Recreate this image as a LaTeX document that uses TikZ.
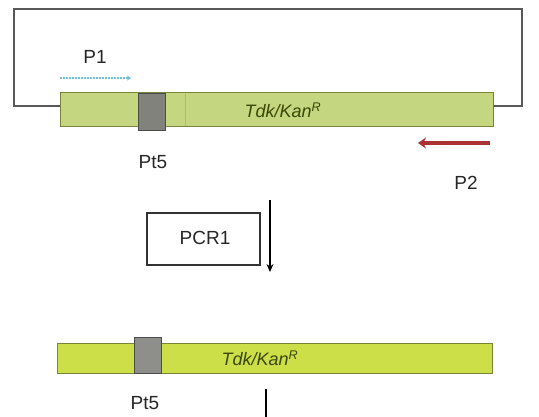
\documentclass[tikz,border=0pt]{standalone}
\usepackage{fontspec}
\setmainfont{Liberation Sans}
\usetikzlibrary{arrows.meta}
\definecolor{barA}{RGB}{196,214,128}
\definecolor{barB}{RGB}{204,222,72}
\definecolor{barEdge}{RGB}{120,132,60}
\definecolor{genetxt}{RGB}{60,72,5}
\definecolor{ptgray}{RGB}{130,130,125}
\definecolor{pOne}{RGB}{110,190,220}
\definecolor{pTwo}{RGB}{170,50,50}
\tikzset{
  bar/.style={draw=barEdge, line width=1pt, minimum height=#1, inner sep=0pt},
  ptbox/.style={draw=black!70, fill=ptgray, line width=0.8pt, inner sep=0pt, minimum width=27pt},
  lbl/.style={font=\fontsize{19}{19}\selectfont, text=black!85, inner sep=0pt},
  gene/.style={font=\fontsize{18}{18}\selectfont\itshape, text=genetxt, inner sep=0pt},
  plasmid/.style={draw=black!65, line width=1.5pt},
}
\begin{document}
\begin{tikzpicture}[x=1pt,y=-1pt]
\useasboundingbox (0,0) rectangle (539,417);
% top bar
\node[bar=34pt, fill=barA, minimum width=433pt] (barA) at (276.5,110) {};
\draw[barEdge!60, line width=0.6pt] (185,94) -- (185,126);
\node[ptbox, minimum height=37pt] (ptA) at (151.5,111.5) {};
\node[gene] (geneA) at (283,110) {Tdk/Kan\textsuperscript{R}};
% plasmid backbone
\coordinate (cTL) at (14,9);
\coordinate (cTR) at (522,9);
\draw[plasmid] (barA.west |- 0,106) -- (14,106) -- (cTL) -- (cTR) -- (522,106) -- (barA.east |- 0,106);
% primers
\node[lbl] (p1) at (95,57) {P1};
\coordinate (p1s) at (60,78);
\coordinate (p1e) at (131,78);
\draw[pOne, line width=1.5pt, dash pattern=on 2pt off 1pt, -{Stealth[length=4pt,width=5pt]}] (p1s) -- (p1e);
\node[lbl] (pt5A) at (153,162) {Pt5};
\coordinate (p2s) at (490,143);
\coordinate (p2e) at (418,143);
\draw[pTwo, line width=3.5pt, -{Stealth[length=8pt,width=11pt]}] (p2s) -- (p2e);
\node[lbl] (p2) at (466,183) {P2};
% PCR step
\node[draw=black!80, line width=1.2pt, minimum width=113pt, minimum height=52pt, inner sep=0pt] (pcr) at (203.5,239) {};
\node[lbl] (pcrt) at (205,238) {PCR1};
\coordinate (arS) at (270,200);
\coordinate (arE) at (270,272);
\draw[black, line width=1.5pt, -{Stealth[length=8pt,width=7pt]}] (arS) -- (arE);
% bottom bar
\node[bar=30pt, fill=barB, minimum width=435pt] (barB) at (274.5,358) {};
\node[ptbox, minimum height=36pt, fill=ptgray!90] (ptB) at (147.5,355) {};
\node[gene] (geneB) at (260,358) {Tdk/Kan\textsuperscript{R}};
\node[lbl] (pt5B) at (145,403) {Pt5};
\coordinate (lnS) at (266,389);
\coordinate (lnE) at (266,417);
\draw[black, line width=1.5pt] (lnS) -- (lnE);
\end{tikzpicture}
\end{document}
